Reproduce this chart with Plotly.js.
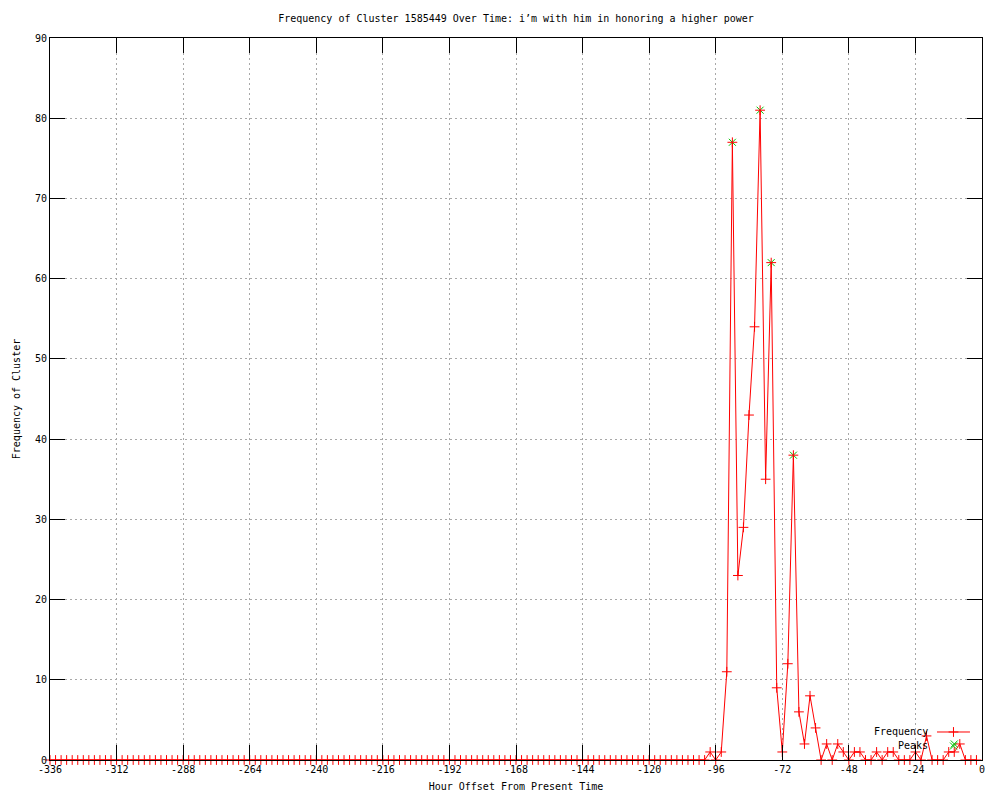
<!DOCTYPE html>
<html>
<head>
<meta charset="utf-8">
<script src="https://cdn.plot.ly/plotly-3.0.1.min.js"></script>
<style>html,body{margin:0;padding:0;background:#fff;}#chart{width:1000px;height:800px;}</style>
</head>
<body>
<div id="chart"></div>
<script>
// Hour offsets (every 2 hours)
const hours = [
 -336,-334,-332,-330,-328,-326,-324,-322,-320,-318,-316,-314,-312,-310,-308,-306,-304,-302,-300,-298,
 -296,-294,-292,-290,-288,-286,-284,-282,-280,-278,-276,-274,-272,-270,-268,-266,-264,-262,-260,-258,
 -256,-254,-252,-250,-248,-246,-244,-242,-240,-238,-236,-234,-232,-230,-228,-226,-224,-222,-220,-218,
 -216,-214,-212,-210,-208,-206,-204,-202,-200,-198,-196,-194,-192,-190,-188,-186,-184,-182,-180,-178,
 -176,-174,-172,-170,-168,-166,-164,-162,-160,-158,-156,-154,-152,-150,-148,-146,-144,-142,-140,-138,
 -136,-134,-132,-130,-128,-126,-124,-122,-120,-118,-116,-114,-112,-110,-108,-106,-104,-102,-100,
 -98,-96,-94,-92,-90,-88,-86,-84,-82,-80,-78,-76,-74,-72,-70,-68,-66,-64,-62,-60,
 -58,-56,-54,-52,-50,-48,-46,-44,-42,-40,-38,-36,-34,-32,-30,-28,-26,-24,-22,-20,
 -18,-16,-14,-12,-10,-8,-6,-4,-2
];
const frequency = [
 0,0,0,0,0,0,0,0,0,0,0,0,0,0,0,0,0,0,0,0,
 0,0,0,0,0,0,0,0,0,0,0,0,0,0,0,0,0,0,0,0,
 0,0,0,0,0,0,0,0,0,0,0,0,0,0,0,0,0,0,0,0,
 0,0,0,0,0,0,0,0,0,0,0,0,0,0,0,0,0,0,0,0,
 0,0,0,0,0,0,0,0,0,0,0,0,0,0,0,0,0,0,0,0,
 0,0,0,0,0,0,0,0,0,0,0,0,0,0,0,0,0,0,0,
 1,0,1,11,77,23,29,43,54,81,35,62,9,1,12,38,6,2,8,4,
 0,2,0,2,1,0,1,1,0,0,1,0,1,1,0,0,0,1,0,3,
 0,0,0,1,1,2,0,0,0
];
// Peaks
const peakHours = [-90, -80, -76, -68, -10];
const peakValues = [77, 81, 62, 38, 2];

// Axis ticks
const xTickVals = [-336,-312,-288,-264,-240,-216,-192,-168,-144,-120,-96,-72,-48,-24,0];
const xTickText = ["-336","-312","-288","-264","-240","-216","-192","-168","-144","-120","-96","-72","-48","-24","0"];
const yTickVals = [0,10,20,30,40,50,60,70,80,90];

const titleText = "Frequency of Cluster 1585449 Over Time: i’m with him in honoring a higher power";
const xTitle = "Hour Offset From Present Time";
const yTitle = "Frequency of Cluster";
const legendNames = ["Frequency", "Peaks"];

const RED = "#ff0000";
const GREEN = "#00c000";
const FONT = "DejaVu Sans Mono";

const traces = [
  {
    x: peakHours, y: peakValues, type: "scatter", mode: "markers", name: legendNames[1],
    marker: {symbol: "x-thin", size: 7, color: GREEN, line: {color: GREEN, width: 1}},
    showlegend: false, cliponaxis: false
  },
  {
    x: hours, y: frequency, type: "scatter", mode: "lines+markers", name: legendNames[0],
    line: {color: RED, width: 1},
    marker: {symbol: "cross-thin", size: 7, color: RED, line: {color: RED, width: 1}},
    showlegend: false, cliponaxis: false
  },
  // legend samples on overlay axes
  {
    x: [0.9694], y: [0.0388], xaxis: "x2", yaxis: "y2", type: "scatter", mode: "markers",
    marker: {symbol: "cross-thin", size: 7, color: RED, line: {color: RED, width: 1}},
    showlegend: false, hoverinfo: "skip", cliponaxis: false
  },
  {
    x: [0.9694], y: [0.0194], xaxis: "x2", yaxis: "y2", type: "scatter", mode: "markers",
    marker: {symbol: "x-thin", size: 7, color: GREEN, line: {color: GREEN, width: 1}},
    showlegend: false, hoverinfo: "skip", cliponaxis: false
  }
];

const axisCommon = {
  showline: true, linecolor: "#000", linewidth: 1, mirror: "ticks",
  ticks: "inside", ticklen: 15, tickwidth: 1, tickcolor: "#000",
  showgrid: true, gridcolor: "#a8a8a8", gridwidth: 1, griddash: "2px,3px",
  zeroline: false, tickfont: {family: FONT, size: 10, color: "#000"},
  layer: "above traces"
};

const layout = {
  width: 1000, height: 800,
  paper_bgcolor: "#fff", plot_bgcolor: "#fff",
  margin: {l: 50, r: 18, t: 38, b: 40, pad: 0},
  font: {family: FONT, size: 10, color: "#000"},
  title: {text: titleText, font: {family: FONT, size: 10, color: "#000"},
          x: 0.5, xref: "paper", y: 1 - 18/800, yref: "container", yanchor: "middle"},
  showlegend: false,
  xaxis: Object.assign({}, axisCommon, {
    range: [-336, 0], tickmode: "array", tickvals: xTickVals, ticktext: xTickText,
    title: {text: xTitle, font: {family: FONT, size: 10, color: "#000"}, standoff: 8},
    automargin: false
  }),
  yaxis: Object.assign({}, axisCommon, {
    range: [0, 90], tickmode: "array", tickvals: yTickVals,
    title: {text: yTitle, font: {family: FONT, size: 10, color: "#000"}, standoff: 12},
    automargin: false
  }),
  xaxis2: {overlaying: "x", range: [0, 1], visible: false, fixedrange: true},
  yaxis2: {overlaying: "y", range: [0, 1], visible: false, fixedrange: true},
  shapes: [
    {type: "line", xref: "paper", yref: "paper", x0: 0.9517, x1: 0.9871, y0: 0.0388, y1: 0.0388,
     line: {color: RED, width: 1}}
  ],
  annotations: [
    {text: legendNames[0], xref: "paper", yref: "paper", x: 0.944, y: 0.0388, xanchor: "right",
     yanchor: "middle", showarrow: false, font: {family: FONT, size: 10, color: "#000"}},
    {text: legendNames[1], xref: "paper", yref: "paper", x: 0.944, y: 0.0194, xanchor: "right",
     yanchor: "middle", showarrow: false, font: {family: FONT, size: 10, color: "#000"}}
  ]
};

Plotly.newPlot("chart", traces, layout, {displayModeBar: false, staticPlot: true});
</script>
</body>
</html>
